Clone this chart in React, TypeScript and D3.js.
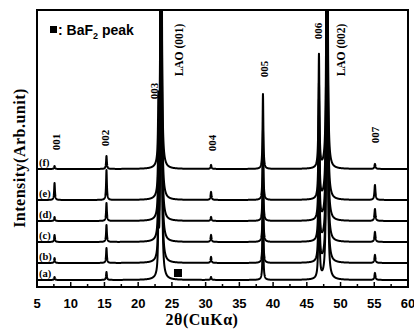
import { useEffect, useRef } from 'react';
import * as d3 from 'd3';

// peak positions (2θ) and labels
const peakPos = [7.6, 15.3, 23.0, 23.4, 30.8, 38.5, 46.8, 48.0, 55.1];
const peakNames = ['001', '002', '003', 'LAO (001)', '004', '005', '006', 'LAO (002)', '007'];
const peakWidths = [0.07, 0.07, 0.07, 0.065, 0.08, 0.07, 0.08, 0.065, 0.09];

// traces, bottom to top
const traceNames = ['(a)', '(b)', '(c)', '(d)', '(e)', '(f)'];
const traceOffsets = [7, 24, 45, 66, 87, 118];
const heightsA = [3, 8, 50, 800, 3, 60, 120, 800, 7];
const heightsB = [5, 15, 50, 800, 6, 62, 125, 800, 8];
const heightsC = [7, 17, 55, 800, 7, 65, 125, 800, 10];
const heightsD = [4, 18, 55, 800, 4, 68, 120, 800, 12];
const heightsE = [17, 30, 55, 800, 8, 70, 115, 800, 15];
const heightsF = [3, 13, 57, 800, 4, 75, 113, 800, 5];
const traceHeights = [heightsA, heightsB, heightsC, heightsD, heightsE, heightsF];

// BaF2 marker
const bafPos = 25.9;
const bafTrace = 0;

// peak label positions (2θ, intensity on the chart scale)
const labelX = [7.8, 15.1, 22.4, 26.1, 30.9, 38.6, 46.7, 50.0, 55.1];
const labelY = [145, 149, 196, 237, 144, 218, 256, 237, 152];

const xTicks = [5, 10, 15, 20, 25, 30, 35, 40, 45, 50, 55, 60];

export default function App() {
	const svgRef = useRef<SVGSVGElement | null>(null);

	useEffect(() => {
		const svg = d3.select(svgRef.current);
		svg.selectAll('*').remove();

		const width = 414;
		const height = 329;
		const left = 37, right = 408, top = 10, bottom = 287;

		const x = d3.scaleLinear().domain([5, 60]).range([left, right]);
		const y = d3.scaleLinear().domain([0, 277]).range([bottom, top]);

		const serif = "'Liberation Serif', 'DejaVu Serif', serif";
		const sans = "'Liberation Sans', Arial, sans-serif";

		svg.append('rect').attr('width', width).attr('height', height).attr('fill', '#fff');

		svg.append('clipPath').attr('id', 'plotClip')
			.append('rect').attr('x', left).attr('y', top).attr('width', right - left).attr('height', bottom - top);

		// sample grid
		const xs = d3.range(5, 60.0001, 0.01);
		const line = d3.line<[number, number]>().x((d) => x(d[0])).y((d) => y(d[1]));

		const plot = svg.append('g').attr('clip-path', 'url(#plotClip)');

		traceHeights.forEach((hs, ti) => {
			const pts: [number, number][] = xs.map((v) => {
				let s = traceOffsets[ti];
				hs.forEach((h, pi) => {
					const d = v - peakPos[pi];
					const gm = peakWidths[pi];
					s += (h * gm * gm) / (d * d + gm * gm);
				});
				return [v, s];
			});
			plot.append('path')
				.attr('d', line(pts))
				.attr('fill', 'none')
				.attr('stroke', '#000')
				.attr('stroke-width', 2)
				.attr('stroke-linejoin', 'round');
		});

		// trace labels
		traceNames.forEach((n, i) => {
			svg.append('text')
				.attr('x', left + 2)
				.attr('y', y(traceOffsets[i]) - 3)
				.attr('font-family', serif)
				.attr('font-weight', 'bold')
				.attr('font-size', 10.5)
				.attr('fill', '#000')
				.text(n);
		});

		// peak labels
		peakNames.forEach((n, i) => {
			const px = x(labelX[i]);
			const py = y(labelY[i]);
			svg.append('text')
				.attr('transform', `translate(${px},${py}) rotate(-90)`)
				.attr('text-anchor', 'middle')
				.attr('dominant-baseline', 'central')
				.attr('font-family', serif)
				.attr('font-weight', 'bold')
				.attr('font-size', n.startsWith('LAO') ? 11.5 : 11)
				.attr('fill', '#000')
				.text(n);
		});

		// BaF2 marker
		svg.append('rect')
			.attr('x', x(bafPos) - 4)
			.attr('y', y(traceOffsets[bafTrace] + 7) - 4)
			.attr('width', 8)
			.attr('height', 8)
			.attr('fill', '#000');

		// legend
		svg.append('rect').attr('x', 50).attr('y', 26).attr('width', 7).attr('height', 7).attr('fill', '#000');
		const lt = svg.append('text')
			.attr('x', 58)
			.attr('y', 35)
			.attr('font-family', sans)
			.attr('font-weight', 'bold')
			.attr('font-size', 14)
			.attr('fill', '#000');
		lt.append('tspan').text(': BaF');
		lt.append('tspan').attr('font-size', 9).attr('dy', 4).text('2');
		lt.append('tspan').attr('dy', -4).text(' peak');

		// frame
		svg.append('rect')
			.attr('x', left).attr('y', top)
			.attr('width', right - left).attr('height', bottom - top)
			.attr('fill', 'none').attr('stroke', '#000').attr('stroke-width', 2);

		// ticks (inward)
		const minor = d3.range(7.5, 60, 5);
		svg.append('g').selectAll('line').data(xTicks).join('line')
			.attr('x1', (d) => x(d)).attr('x2', (d) => x(d))
			.attr('y1', bottom).attr('y2', bottom - 5)
			.attr('stroke', '#000').attr('stroke-width', 1.5);
		svg.append('g').selectAll('line').data(minor).join('line')
			.attr('x1', (d) => x(d)).attr('x2', (d) => x(d))
			.attr('y1', bottom).attr('y2', bottom - 3)
			.attr('stroke', '#000').attr('stroke-width', 1.5);

		svg.append('g').selectAll('text').data(xTicks).join('text')
			.attr('x', (d) => x(d))
			.attr('y', 308)
			.attr('text-anchor', 'middle')
			.attr('font-family', sans)
			.attr('font-weight', 'bold')
			.attr('font-size', 13)
			.attr('fill', '#000')
			.text((d) => d);

		// axis titles
		svg.append('text')
			.attr('x', 202)
			.attr('y', 325)
			.attr('text-anchor', 'middle')
			.attr('font-family', serif)
			.attr('font-weight', 'bold')
			.attr('font-size', 16)
			.attr('letter-spacing', 0.5)
			.attr('fill', '#000')
			.text('2θ(CuKα)');

		svg.append('text')
			.attr('transform', `translate(19,158) rotate(-90)`)
			.attr('text-anchor', 'middle')
			.attr('dominant-baseline', 'central')
			.attr('font-family', serif)
			.attr('font-weight', 'bold')
			.attr('font-size', 16)
			.attr('letter-spacing', 0.5)
			.attr('fill', '#000')
			.text('Intensity(Arb.unit)');
	}, []);

	return (
		<svg ref={svgRef} width={414} height={329} style={{ position: 'absolute', left: 0, top: 0, display: 'block' }} />
	);
}
